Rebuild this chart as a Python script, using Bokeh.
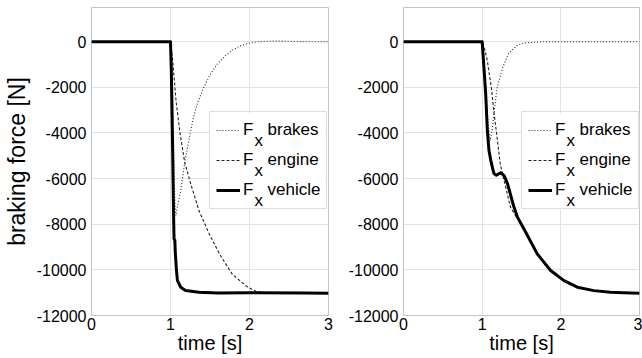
from bokeh.plotting import figure
from bokeh.layouts import row
from bokeh.models import FixedTicker, Legend, LegendItem
from bokeh.core.properties import value
from bokeh.embed import file_html
from bokeh.resources import INLINE

# ---------------- data ----------------
x_ticks = [0, 1, 2, 3]
x_tick_labels = ["0", "1", "2", "3"]
y_ticks = [-12000, -10000, -8000, -6000, -4000, -2000, 0]
y_tick_labels = ["-12000", "-10000", "-8000", "-6000", "-4000", "-2000", "0"]

# left panel
tL_vehicle = [0, 1.0, 1.01, 1.025, 1.04, 1.045, 1.055, 1.06, 1.075, 1.088, 1.13, 1.19, 1.36, 1.6, 2.0, 2.7, 3.0]
FL_vehicle = [0, 0, -1200, -4300, -7800, -8650, -8700, -9200, -10000, -10470, -10760, -10900, -10980, -11010, -11000, -11010, -11020]

tL_brakes = [0, 1.0, 1.02, 1.04, 1.055, 1.067, 1.09, 1.13, 1.18, 1.25, 1.29, 1.35, 1.42, 1.5, 1.59, 1.7, 1.8, 1.9, 1.99, 2.12, 2.3, 2.5, 2.7, 3.0]
FL_brakes = [0, 0, -1100, -4500, -6900, -7620, -7200, -6530, -5290, -4000, -3320, -2600, -2010, -1450, -990, -600, -330, -160, -60, 0, 30, 20, 0, 0]

tL_engine = [0, 1.0, 1.03, 1.07, 1.12, 1.18, 1.257, 1.36, 1.49, 1.62, 1.78, 1.95, 2.08, 2.2, 2.5, 3.0]
FL_engine = [0, 0, -900, -2590, -4000, -5290, -6240, -7400, -8420, -9300, -10180, -10690, -10940, -11000, -11000, -11020]

# right panel
tR_vehicle = [0, 1.0, 1.02, 1.045, 1.066, 1.087, 1.11, 1.13, 1.15, 1.18, 1.21, 1.24, 1.28, 1.32, 1.4, 1.45, 1.53, 1.7, 1.87, 2.04, 2.21, 2.42, 2.63, 2.8, 3.0]
FR_vehicle = [0, 0, -1000, -2300, -3900, -4780, -5200, -5510, -5780, -5850, -5790, -5740, -5880, -6200, -7200, -7700, -8200, -9300, -10030, -10470, -10760, -10910, -10980, -11000, -11020]

tR_brakes = [0, 1.0, 1.02, 1.045, 1.074, 1.10, 1.125, 1.15, 1.19, 1.26, 1.34, 1.45, 1.57, 1.8, 3.0]
FR_brakes = [0, 0, -700, -2010, -3470, -4340, -3900, -3180, -2010, -1140, -480, -140, -40, 0, 0]

tR_engine = [0, 1.0, 1.03, 1.066, 1.09, 1.117, 1.15, 1.19, 1.23, 1.30, 1.36, 1.43, 1.45, 1.53, 1.7, 1.87, 2.04, 2.21, 2.42, 2.63, 2.8, 3.0]
FR_engine = [0, 0, -300, -840, -1400, -2010, -3100, -4200, -5360, -6390, -7260, -7650, -7700, -8200, -9300, -10030, -10470, -10760, -10910, -10980, -11000, -11020]

legend_labels = ["brakes", "engine", "vehicle"]
x_label = "time [s]"
y_label = "braking force [N]"

FONT = "Liberation Sans"
NB = "\u00a0\u00a0\u00a0"
X0, X1 = 0, 3
Y0, Y1 = -12000, 1500
FH = 308
# legend box, in frame pixels from the frame's bottom-left corner
LG_LEFT, LG_BOTTOM, LG_W, LG_H = 118, 106, 118, 96


def make_panel(t_b, F_b, t_e, F_e, t_v, F_v, with_ylabel, border_left, border_right, fw):
    p = figure(frame_width=fw, frame_height=FH,
               x_range=(X0, X1), y_range=(Y0, Y1),
               output_backend="svg", toolbar_location=None,
               min_border_left=border_left, min_border_right=border_right,
               min_border_top=7, min_border_bottom=43,
               background_fill_color="white", border_fill_color="white")
    p.outline_line_color = "#c4c4c4"
    p.outline_line_width = 1

    for ax in (p.xaxis[0], p.yaxis[0]):
        ax.axis_line_color = None
        ax.major_tick_line_color = None
        ax.minor_tick_line_color = None
        ax.major_tick_out = 0
        ax.major_tick_in = 0
        ax.minor_tick_out = 0
        ax.minor_tick_in = 0
        ax.major_label_text_font = FONT
        ax.major_label_text_font_size = "16px"
        ax.major_label_text_color = "black"
        ax.axis_label_text_font = FONT
        ax.axis_label_text_font_style = "normal"
        ax.axis_label_text_color = "black"

    p.xaxis.ticker = FixedTicker(ticks=x_ticks)
    p.yaxis.ticker = FixedTicker(ticks=y_ticks)
    p.xaxis.major_label_overrides = dict(zip(x_ticks, x_tick_labels))
    p.yaxis.major_label_overrides = dict(zip(y_ticks, y_tick_labels))
    p.xaxis.major_label_standoff = 2
    p.xaxis.axis_label = x_label
    p.xaxis.axis_label_text_font_size = "20px"
    p.xaxis.axis_label_standoff = -1
    p.yaxis.major_label_standoff = 5
    if with_ylabel:
        p.yaxis.axis_label = y_label
        p.yaxis.axis_label_text_font_size = "23px"
        p.yaxis.axis_label_standoff = 4

    p.xgrid.grid_line_color = "#e2e2e2"
    p.ygrid.grid_line_color = "#e2e2e2"
    p.xgrid.ticker = FixedTicker(ticks=x_ticks)
    p.ygrid.ticker = FixedTicker(ticks=y_ticks)

    px_x = (X1 - X0) / fw
    px_y = (Y1 - Y0) / FH

    # white backing of the legend box (hides the grid under the legend)
    p.quad(left=[X0 + LG_LEFT * px_x], right=[X0 + (LG_LEFT + LG_W) * px_x],
           bottom=[Y0 + LG_BOTTOM * px_y], top=[Y0 + (LG_BOTTOM + LG_H) * px_y],
           fill_color="white", line_color=None)

    r_b = p.line(t_b, F_b, line_color="#2a2a2a", line_width=1.1, line_dash="1 2")
    r_e = p.line(t_e, F_e, line_color="#222222", line_width=1.1, line_dash="3 2")
    r_v = p.line(t_v, F_v, line_color="black", line_width=3, line_join="round")

    legend = Legend(items=[LegendItem(label="F" + NB + lab, renderers=[r])
                           for lab, r in zip(legend_labels, [r_b, r_e, r_v])],
                    location=(LG_LEFT, LG_BOTTOM),
                    padding=6, spacing=6, margin=0,
                    glyph_width=24, glyph_height=24, label_height=24,
                    label_standoff=3,
                    label_text_font=FONT, label_text_font_size="17px",
                    label_text_color="black",
                    border_line_color="#bdbdbd", border_line_width=1,
                    background_fill_alpha=0.0)
    p.add_layout(legend, "center")

    # subscript "x" of each legend entry
    p.text(x=[X0 + 163 * px_x] * 3,
           y=[Y0 + (175 - 30 * k) * px_y for k in range(3)],
           text=["x"] * 3, text_font=value(FONT), text_font_size="17px",
           text_color="black", text_align="left", text_baseline="middle")
    return p


p1 = make_panel(tL_brakes, FL_brakes, tL_engine, FL_engine, tL_vehicle, FL_vehicle,
                True, 91, 7, 237)
p2 = make_panel(tR_brakes, FR_brakes, tR_engine, FR_engine, tR_vehicle, FR_vehicle,
                False, 68, 3, 236)

layout = row(p1, p2)
open("out.html", "w").write(file_html(layout, INLINE))
